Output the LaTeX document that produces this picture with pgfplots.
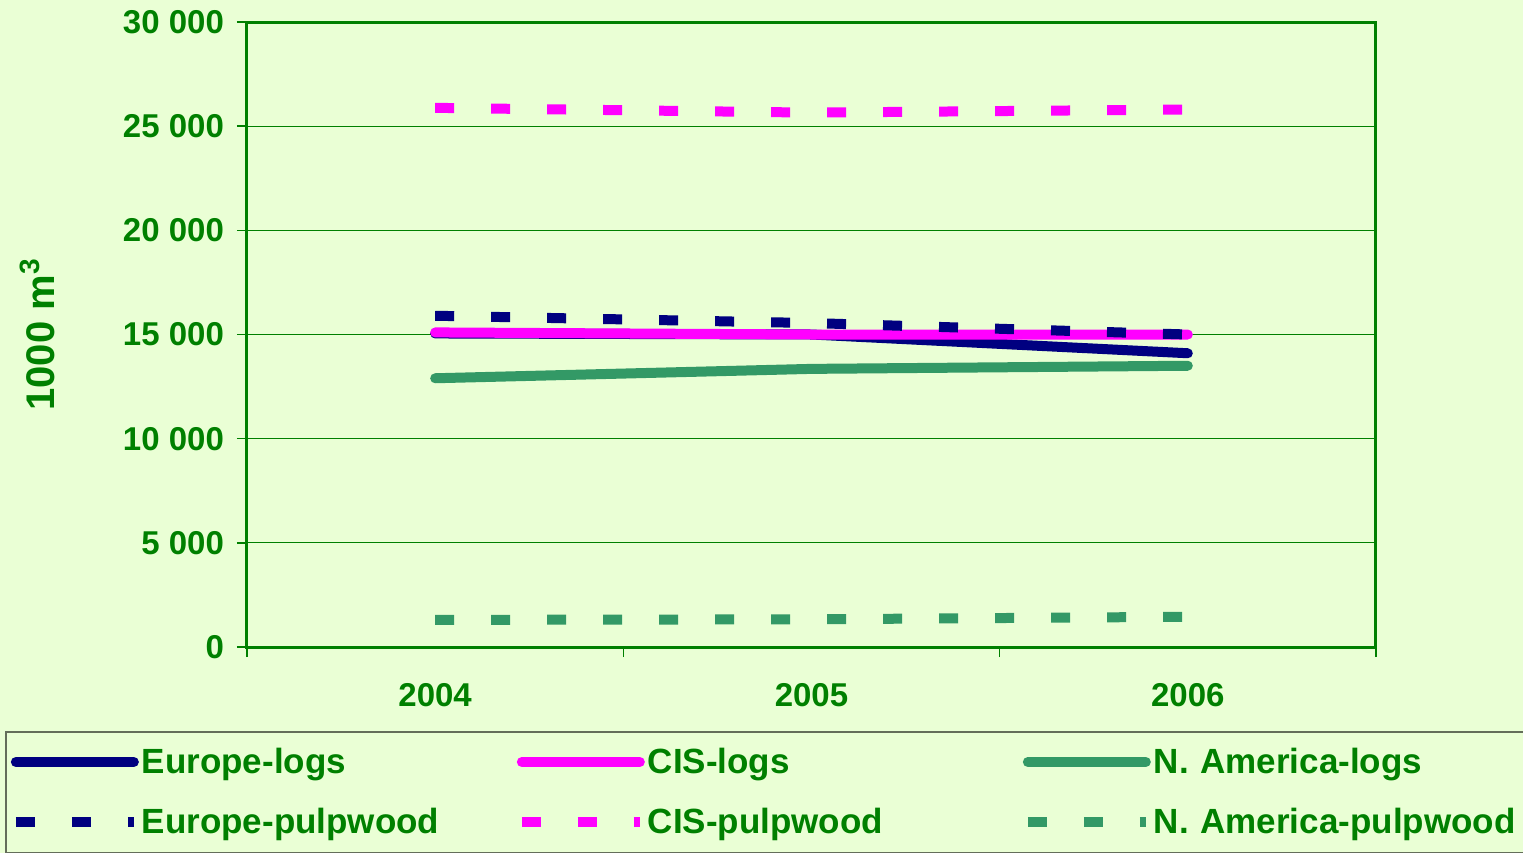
\documentclass[border=0pt]{standalone}
\usepackage{pgfplots}
\pgfplotsset{compat=1.18}
\usepackage{fontspec}
\setmainfont{Liberation Sans}

\definecolor{bg}{RGB}{234,255,213}
\definecolor{tgreen}{RGB}{0,128,0}
\definecolor{navy}{RGB}{0,0,128}
\definecolor{pink}{RGB}{255,0,255}
\definecolor{sea}{RGB}{51,153,102}
\definecolor{lgray}{RGB}{100,110,90}

\newcommand{\lblfont}{\bfseries\fontsize{16.5}{19}\selectfont}
\newcommand{\legfont}{\bfseries\fontsize{17.5}{20}\selectfont}

\begin{document}
\begin{tikzpicture}
\fill[bg] (-123.5pt,-103pt) rectangle (638pt,323.5pt);
\begin{axis}[
  at={(0pt,0pt)}, anchor=south west,
  scale only axis, width=564.5pt, height=312.5pt,
  xmin=-0.5, xmax=2.5, ymin=0, ymax=30000,
  xtick={0,1,2}, xticklabels={2004,2005,2006},
  minor xtick={-0.5,0.5,1.5,2.5},
  ytick={0,5000,10000,15000,20000,25000,30000},
  yticklabels={0,5 000,10 000,15 000,20 000,25 000,30 000},
  scaled y ticks=false,
  tick pos=left, tick align=outside,
  major tick length=5pt, minor tick length=5pt,
  tick style={tgreen, line width=0.8pt},
  major x tick style={draw=none},
  axis line style={tgreen, line width=1.5pt},
  ymajorgrids, major grid style={tgreen, line width=0.6pt},
  tick label style={font=\lblfont, text=tgreen},
  yticklabel style={xshift=-3pt},
  xticklabel style={yshift=-9.5pt},
  ylabel={1000 m\textsuperscript{3}},
  ylabel style={at={(axis description cs:-0.1860,0.5)}, anchor=center,
    font=\bfseries\fontsize{20}{24}\selectfont, text=tgreen},
  legend columns=3,
  legend cell align=left,
  legend image code/.code={\draw[#1] (0pt,0pt) -- (59pt,0pt);},
  legend style={at={(-0.2143,-0.1344)}, anchor=north west,
    draw=lgray, line width=0.8pt, fill=bg, font=\legfont,
    inner xsep=2.5pt, inner ysep=8pt, row sep=16pt, column sep=0pt,
    nodes={inner sep=0pt, text width=187.5pt, anchor=west, text=tgreen},
    /tikz/every odd column/.style={column sep=1.5pt}},
  solid line/.style={line width=5pt, line cap=round, line join=round},
  dash line/.style={line width=5pt, line cap=butt, dash pattern=on 9.5pt off 18.5pt},
]
\addplot[navy, solid line] coordinates {(0,15050) (1,15000) (2,14100)};
\addlegendentry{Europe-logs}
\addplot[pink, solid line] coordinates {(0,15100) (1,15000) (2,15000)};
\addlegendentry{CIS-logs}
\addplot[sea, solid line] coordinates {(0,12900) (1,13350) (2,13500)};
\addlegendentry{N. America-logs}
\addplot[navy, dash line] coordinates {(0,15900) (1,15550) (2,15000)};
\addlegendentry{Europe-pulpwood}
\addplot[pink, dash line] coordinates {(0,25880) (1,25650) (2,25800)};
\addlegendentry{CIS-pulpwood}
\addplot[sea, dash line] coordinates {(0,1300) (1,1330) (2,1450)};
\addlegendentry{N. America-pulpwood}
\end{axis}
\pgfresetboundingbox
\path (-123.5pt,-103pt) rectangle (638pt,323.5pt);
\end{tikzpicture}
\end{document}
